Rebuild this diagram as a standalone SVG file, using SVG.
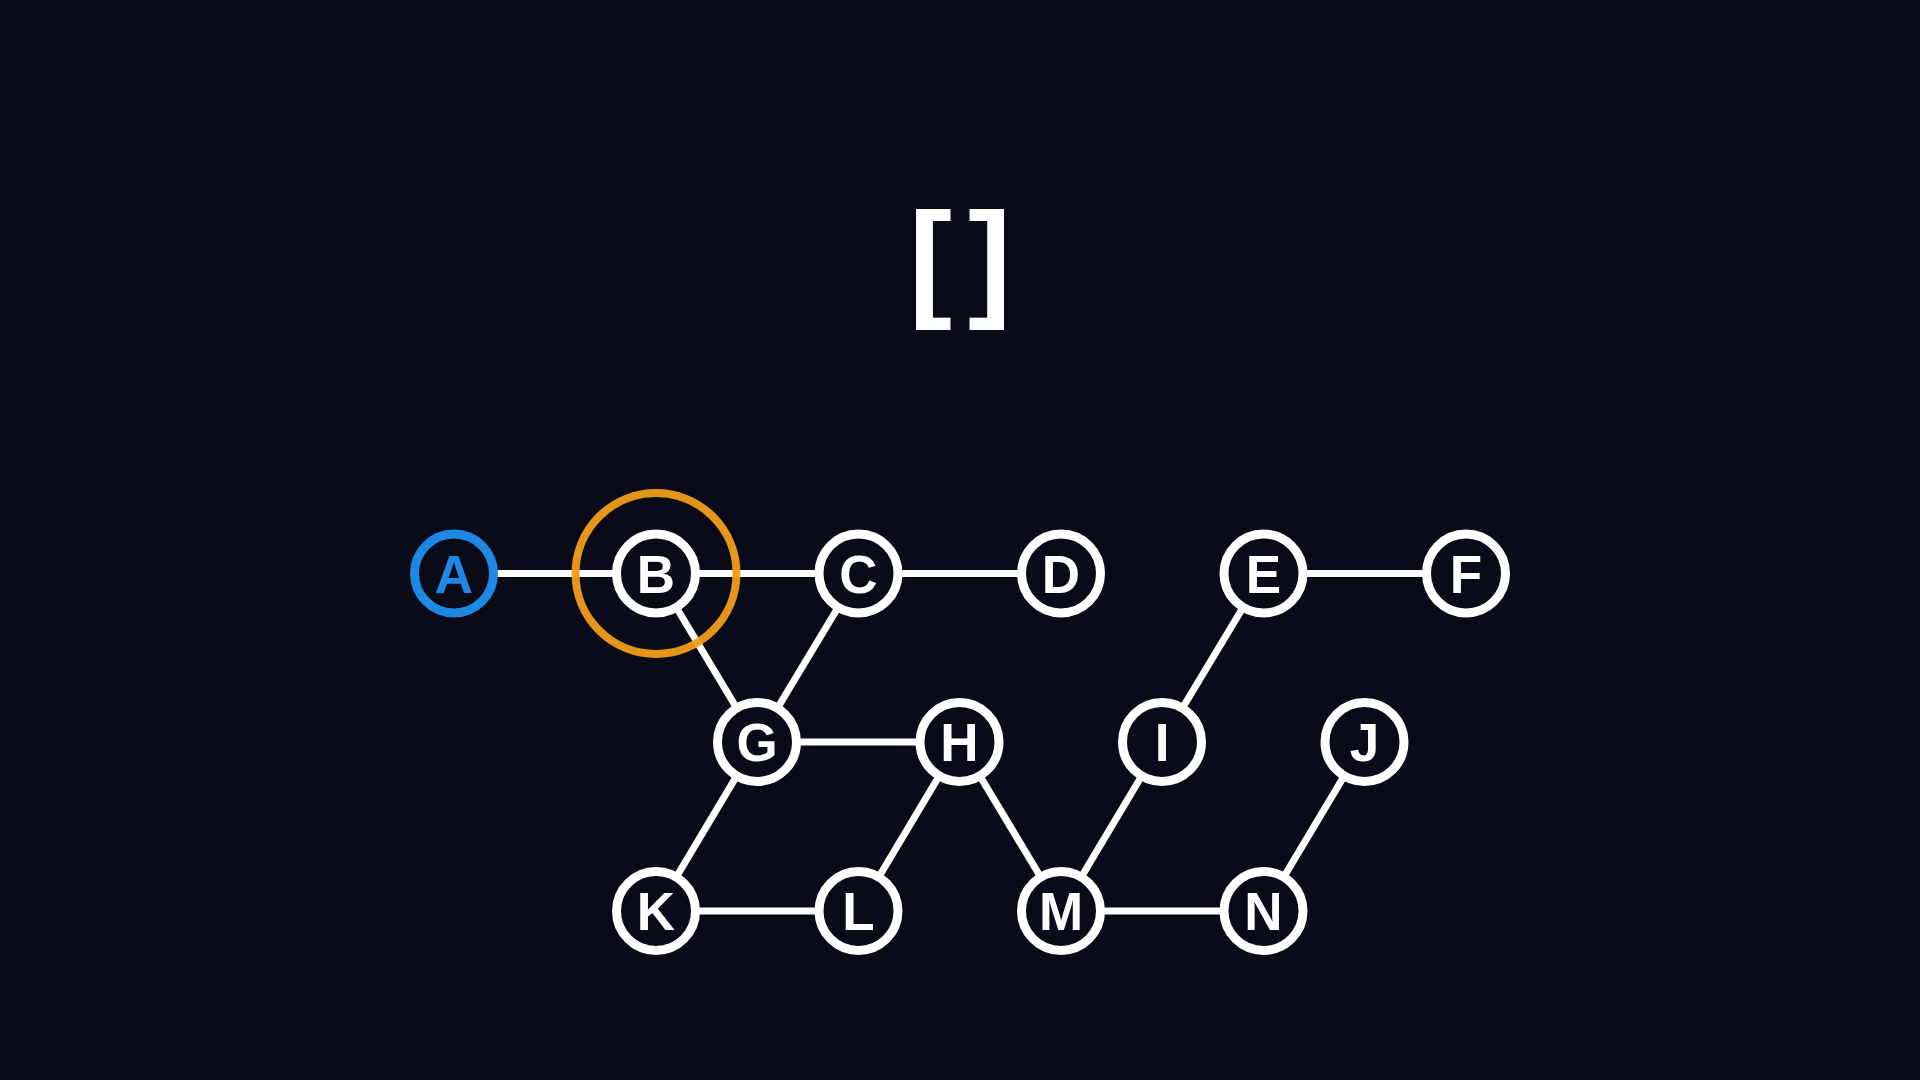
<svg xmlns="http://www.w3.org/2000/svg" width="1920" height="1080" viewBox="0 0 1920 1080">
<defs>
<style>
.edge{stroke:#ffffff;stroke-width:7;stroke-linecap:butt;fill:none}
.node circle{fill:#090c18;stroke:#ffffff;stroke-width:9}
.node text{fill:#ffffff;font-family:"Liberation Sans",Arial,sans-serif;font-weight:bold;font-size:53px;text-anchor:middle}
.start circle{stroke:#1e88e5}
.start text{fill:#1e88e5}
.focus{fill:none;stroke:#f29d1b;stroke-width:8;opacity:0.95}
</style>
</defs>
<rect width="1920" height="1080" fill="#090c18"/>
<text id="array" x="968" y="303" fill="#ffffff" font-family="Liberation Sans, Arial, sans-serif" font-weight="bold" font-size="130" text-anchor="middle" letter-spacing="16">[]</text>
<g id="connectors">
<line class="edge" x1="454" y1="573.5" x2="656" y2="573.5"/>
<line class="edge" x1="656" y1="573.5" x2="858.5" y2="573.5"/>
<line class="edge" x1="858.5" y1="573.5" x2="1061" y2="573.5"/>
<line class="edge" x1="1263.5" y1="573.5" x2="1466" y2="573.5"/>
<line class="edge" x1="656" y1="573.5" x2="757" y2="742"/>
<line class="edge" x1="858.5" y1="573.5" x2="757" y2="742"/>
<line class="edge" x1="757" y1="742" x2="959.5" y2="742"/>
<line class="edge" x1="757" y1="742" x2="656" y2="911"/>
<line class="edge" x1="959.5" y1="742" x2="858.5" y2="911"/>
<line class="edge" x1="959.5" y1="742" x2="1061" y2="911"/>
<line class="edge" x1="1162" y1="742" x2="1061" y2="911"/>
<line class="edge" x1="1162" y1="742" x2="1263.5" y2="573.5"/>
<line class="edge" x1="1364.5" y1="742" x2="1263.5" y2="911"/>
<line class="edge" x1="656" y1="911" x2="858.5" y2="911"/>
<line class="edge" x1="1061" y1="911" x2="1263.5" y2="911"/>
</g>
<g id="node-A" class="node start"><circle cx="454" cy="573.5" r="39.5"/><text x="454" y="592.5">A</text></g>
<g id="node-B" class="node"><circle cx="656" cy="573.5" r="39.5"/><text x="656" y="592.5">B</text></g>
<g id="node-C" class="node"><circle cx="858.5" cy="573.5" r="39.5"/><text x="858.5" y="592.5">C</text></g>
<g id="node-D" class="node"><circle cx="1061" cy="573.5" r="39.5"/><text x="1061" y="592.5">D</text></g>
<g id="node-E" class="node"><circle cx="1263.5" cy="573.5" r="39.5"/><text x="1263.5" y="592.5">E</text></g>
<g id="node-F" class="node"><circle cx="1466" cy="573.5" r="39.5"/><text x="1466" y="592.5">F</text></g>
<g id="node-G" class="node"><circle cx="757" cy="742" r="39.5"/><text x="757" y="761">G</text></g>
<g id="node-H" class="node"><circle cx="959.5" cy="742" r="39.5"/><text x="959.5" y="761">H</text></g>
<g id="node-I" class="node"><circle cx="1162" cy="742" r="39.5"/><text x="1162" y="761">I</text></g>
<g id="node-J" class="node"><circle cx="1364.5" cy="742" r="39.5"/><text x="1364.5" y="761">J</text></g>
<g id="node-K" class="node"><circle cx="656" cy="911" r="39.5"/><text x="656" y="930">K</text></g>
<g id="node-L" class="node"><circle cx="858.5" cy="911" r="39.5"/><text x="858.5" y="930">L</text></g>
<g id="node-M" class="node"><circle cx="1061" cy="911" r="39.5"/><text x="1061" y="930">M</text></g>
<g id="node-N" class="node"><circle cx="1263.5" cy="911" r="39.5"/><text x="1263.5" y="930">N</text></g>
<circle id="current-highlight" class="focus" cx="656" cy="573.5" r="80.5"/>
</svg>
